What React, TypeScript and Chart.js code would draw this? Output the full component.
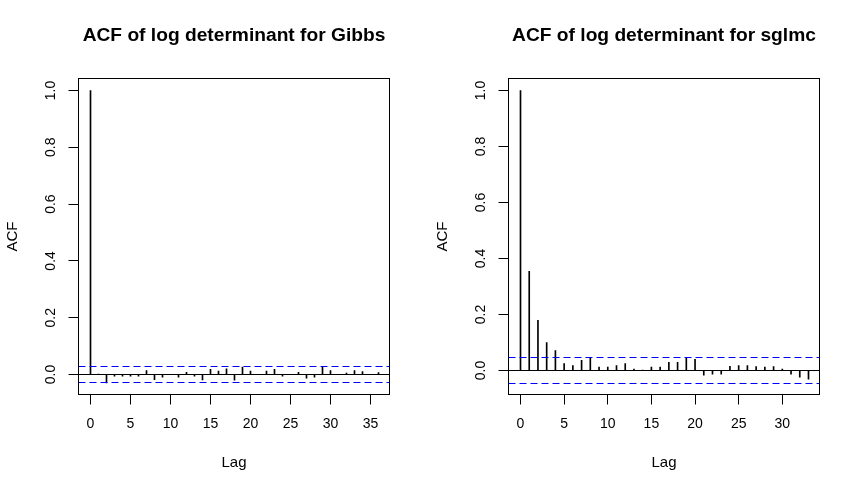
import React, { useEffect, useRef } from "react";
import { Chart, registerables } from "chart.js";

Chart.register(...registerables);

// ---------- data ----------
const gibbsTitle = "ACF of log determinant for Gibbs";
const sglmcTitle = "ACF of log determinant for sglmc";

const gibbsLags = [0, 1, 2, 3, 4, 5, 6, 7, 8, 9, 10, 11, 12, 13, 14, 15, 16, 17, 18, 19, 20, 21, 22, 23, 24, 25, 26, 27, 28, 29, 30, 31, 32, 33, 34, 35, 36];
const gibbsAcf = [1.0, 0.001, -0.030, -0.006, -0.006, -0.006, -0.006, 0.014, -0.018, -0.009, 0.0, -0.009, 0.008, -0.006, -0.019, 0.018, 0.012, 0.020, -0.020, 0.026, 0.012, 0.0, 0.012, 0.018, -0.006, 0.0, 0.008, -0.013, -0.009, 0.028, 0.014, 0.0, 0.005, 0.014, 0.010, 0.0, 0.007];
const gibbsCi = 0.027;

const sglmcLags = [0, 1, 2, 3, 4, 5, 6, 7, 8, 9, 10, 11, 12, 13, 14, 15, 16, 17, 18, 19, 20, 21, 22, 23, 24, 25, 26, 27, 28, 29, 30, 31, 32, 33];
const sglmcAcf = [1.0, 0.354, 0.179, 0.100, 0.071, 0.025, 0.018, 0.036, 0.045, 0.012, 0.012, 0.018, 0.025, 0.005, 0.001, 0.012, 0.012, 0.029, 0.029, 0.045, 0.040, -0.017, -0.013, -0.013, 0.015, 0.018, 0.018, 0.014, 0.012, 0.014, 0.005, -0.013, -0.024, -0.031];
const sglmcCi = 0.045;

const gibbsXTicks = [0, 5, 10, 15, 20, 25, 30, 35];
const sglmcXTicks = [0, 5, 10, 15, 20, 25, 30];
const yTicks = [0, 0.2, 0.4, 0.6, 0.8, 1.0];

// axis limits
const gibbsXMin = -1.5;
const gibbsXMax = 37.375;
const gibbsYMin = -0.070423;
const gibbsYMax = 1.042254;
const sglmcXMin = -1.375;
const sglmcXMax = 34.261;
const sglmcYMin = -0.085714;
const sglmcYMax = 1.042857;

const xLabel = "Lag";
const yLabel = "ACF";

const FONT = '"Liberation Sans", Arial, Helvetica, sans-serif';

type Props = {
  title: string;
  lags: number[];
  acf: number[];
  ci: number;
  xTicks: number[];
  xMin: number;
  xMax: number;
  yMin: number;
  yMax: number;
  left: number;
};

function AcfChart(p: Props) {
  const ref = useRef<HTMLCanvasElement>(null);
  useEffect(() => {
    const refLines = {
      id: "acfRefLines",
      afterDatasetsDraw(chart: any) {
        const { ctx, chartArea: a, scales } = chart;
        const y = scales.y;
        const crisp = (v: number) => Math.round(v - 0.5) + 0.5;
        ctx.save();
        ctx.lineWidth = 1;
        ctx.strokeStyle = "#000000";
        const y0 = crisp(y.getPixelForValue(0));
        ctx.beginPath();
        ctx.moveTo(a.left, y0);
        ctx.lineTo(a.right, y0);
        ctx.stroke();
        ctx.strokeStyle = "#0000FF";
        ctx.setLineDash([7, 4]);
        for (const v of [p.ci, -p.ci]) {
          const yy = crisp(y.getPixelForValue(v));
          ctx.beginPath();
          ctx.moveTo(a.left, yy);
          ctx.lineTo(a.right, yy);
          ctx.stroke();
        }
        ctx.setLineDash([]);
        ctx.strokeStyle = "#000000";
        ctx.strokeRect(a.left, a.top, a.right - a.left, a.bottom - a.top);
        ctx.restore();
      },
    };

    const chart = new Chart(ref.current as HTMLCanvasElement, {
      type: "bar",
      data: {
        datasets: [
          {
            data: p.lags.map((l, i) => ({ x: l, y: p.acf[i] })),
            backgroundColor: "#000000",
            borderWidth: 0,
            barThickness: 1,
          } as any,
        ],
      },
      options: {
        responsive: false,
        animation: false,
        devicePixelRatio: 1,
        layout: { padding: { left: 0, top: 0, right: 40.5, bottom: 0 } },
        plugins: {
          legend: { display: false },
          tooltip: { enabled: false },
          title: {
            display: true,
            text: p.title,
            fullSize: false,
            color: "#000000",
            font: { family: FONT, size: 19.2, weight: "bold" },
            padding: { top: 24.1, bottom: 31.36 },
          },
        },
        scales: {
          x: {
            type: "linear",
            position: "bottom",
            min: p.xMin,
            max: p.xMax,
            bounds: "data",
            offset: false,
            afterBuildTicks: (s: any) => {
              s.ticks = p.xTicks.map((v) => ({ value: v }));
            },
            afterFit: (s: any) => {
              s.height = 97.5;
              s.paddingLeft = 0;
              s.paddingRight = 0;
            },
            grid: { drawOnChartArea: false, tickLength: 10, color: "#000000", lineWidth: 1, offset: false },
            border: { display: true, color: "#000000", width: 1 },
            ticks: {
              color: "#000000",
              font: { family: FONT, size: 14 },
              padding: 11,
              maxRotation: 0,
              autoSkip: false,
              callback: (v: any) => String(v),
            },
            title: {
              display: true,
              text: xLabel,
              color: "#000000",
              font: { family: FONT, size: 15 },
              padding: { top: 0, bottom: 20 },
            },
          } as any,
          y: {
            type: "linear",
            min: p.yMin,
            max: p.yMax,
            bounds: "data",
            afterBuildTicks: (s: any) => {
              s.ticks = yTicks.map((v) => ({ value: v }));
            },
            afterFit: (s: any) => {
              s.width = 78.5;
              s.paddingTop = 0;
              s.paddingBottom = 0;
            },
            grid: { drawOnChartArea: false, tickLength: 10, color: "#000000", lineWidth: 1 },
            border: { display: true, color: "#000000", width: 1 },
            ticks: {
              color: "#000000",
              font: { family: FONT, size: 14 },
              padding: 8,
              minRotation: 90,
              maxRotation: 90,
              crossAlign: "center",
              autoSkip: false,
              callback: (v: any) => Number(v).toFixed(1),
            },
            title: {
              display: true,
              text: yLabel,
              color: "#000000",
              font: { family: FONT, size: 15 },
              padding: { top: 3.5, bottom: 0 },
            },
          } as any,
        },
      },
      plugins: [refLines],
    });
    return () => chart.destroy();
  }, []);
  return (
    <canvas
      ref={ref}
      width={430}
      height={492}
      style={{ position: "absolute", left: p.left, top: 0, display: "block" }}
    />
  );
}

export default function App() {
  return (
    <div style={{ position: "absolute", left: 0, top: 0, width: 860, height: 492, background: "#ffffff" }}>
      <AcfChart
        title={gibbsTitle}
        lags={gibbsLags}
        acf={gibbsAcf}
        ci={gibbsCi}
        xTicks={gibbsXTicks}
        xMin={gibbsXMin}
        xMax={gibbsXMax}
        yMin={gibbsYMin}
        yMax={gibbsYMax}
        left={0}
      />
      <AcfChart
        title={sglmcTitle}
        lags={sglmcLags}
        acf={sglmcAcf}
        ci={sglmcCi}
        xTicks={sglmcXTicks}
        xMin={sglmcXMin}
        xMax={sglmcXMax}
        yMin={sglmcYMin}
        yMax={sglmcYMax}
        left={430}
      />
    </div>
  );
}
